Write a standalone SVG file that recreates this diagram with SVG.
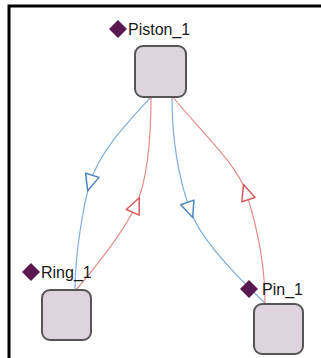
<svg xmlns="http://www.w3.org/2000/svg" width="321" height="358" viewBox="0 0 321 358">
  <style>
    .node rect { fill: #ddd4de; stroke: #555555; stroke-width: 2; }
    .node path { fill: #5a1850; }
    .node text { font-family: "Liberation Sans", Arial, sans-serif; font-size: 16px; fill: #1a1a1a; }
    .edge { fill: none; stroke-width: 1.2; }
    .blue { stroke: #7eaedb; marker-mid: url(#arrowBlue); }
    .red { stroke: #e58b8b; marker-mid: url(#arrowRed); }
  </style>
  <defs>
    <marker id="arrowBlue" viewBox="-10 -10 20 20" refX="0" refY="0" markerWidth="20" markerHeight="20" markerUnits="userSpaceOnUse" orient="auto">
      <polygon points="-8,-7 8,0 -8,7" fill="#ffffff" stroke="#4a86c2" stroke-width="1.5" stroke-linejoin="round"/>
    </marker>
    <marker id="arrowRed" viewBox="-10 -10 20 20" refX="0" refY="0" markerWidth="20" markerHeight="20" markerUnits="userSpaceOnUse" orient="auto">
      <polygon points="-8,-7 8,0 -8,7" fill="#ffffff" stroke="#d95c5c" stroke-width="1.5" stroke-linejoin="round"/>
    </marker>
  </defs>

  <rect x="0" y="0" width="321" height="358" fill="#ffffff"/>
  <!-- frame edges -->
  <path d="M9,358 V6 H321" fill="none" stroke="#000000" stroke-width="3"/>

  <g id="connectors">
    <!-- Piston_1 -> Ring_1 -->
    <path class="edge blue" d="M151,97 C130,120 100,150 90,183 C83,206 75,255 75,290"/>
    <!-- Ring_1 -> Piston_1 -->
    <path class="edge red" d="M76,290 C95,268 125,230 136,205 C145,185 151,150 151,97"/>
    <!-- Piston_1 -> Pin_1 -->
    <path class="edge blue" d="M172,97 C172,145 180,182 190,210 C200,238 235,275 265,303"/>
    <!-- Pin_1 -> Piston_1 -->
    <path class="edge red" d="M265,303 C265,260 255,220 246,192 C237,164 195,125 173,97"/>
  </g>

  <g id="Piston_1" class="node">
    <rect x="135" y="46" width="51" height="51" rx="8"/>
    <path d="M118,20 L127,29 L118,38 L109,29 Z"/>
    <text x="128" y="35">Piston_1</text>
  </g>

  <g id="Ring_1" class="node">
    <rect x="42" y="290" width="49" height="50" rx="8"/>
    <path d="M31,263 L40,272 L31,281 L22,272 Z"/>
    <text x="41" y="278">Ring_1</text>
  </g>

  <g id="Pin_1" class="node">
    <rect x="254" y="304" width="49" height="50" rx="8"/>
    <path d="M249,280 L258,289 L249,298 L240,289 Z"/>
    <text x="262" y="295">Pin_1</text>
  </g>
</svg>
